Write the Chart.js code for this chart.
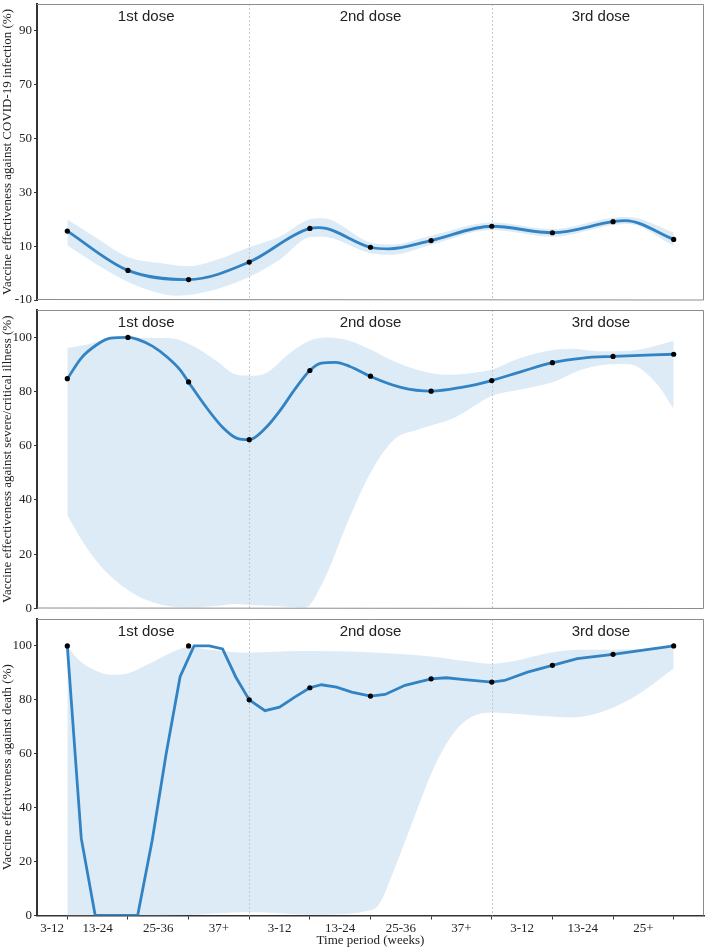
<!DOCTYPE html>
<html>
<head>
<meta charset="utf-8">
<script src="https://cdn.jsdelivr.net/npm/chart.js@4.4.0/dist/chart.umd.min.js"></script>
<style>
    html, body { margin: 0; padding: 0; background: #fff; }
    #wrap { position: relative; width: 708px; height: 948px; }
    canvas { position: absolute; left: 0; }
</style>
</head>
<body>
<div id="wrap">
    <canvas id="c1" width="708" height="310" style="top:0px"></canvas>
    <canvas id="c2" width="708" height="316" style="top:302px"></canvas>
    <canvas id="c3" width="708" height="337" style="top:611px"></canvas>
</div>
<script>
// x axis: 11 time periods, labels sit between the tick marks
const periodIndex = [0, 1, 2, 3, 4, 5, 6, 7, 8, 9, 10];
const tickLabels = ["3-12", "13-24", "25-36", "37+", "3-12", "13-24", "25-36", "37+", "3-12", "13-24", "25+"];
const tickLabelPos = [-0.25, 0.5, 1.5, 2.5, 3.5, 4.5, 5.5, 6.5, 7.5, 8.5, 9.5];
const doseNames = ["1st dose", "2nd dose", "3rd dose"];
const doseLabelPos = [1.3, 5, 8.8];
const doseBoundaries = [3, 7];

// panel 1: infection
const infTicks = [-10, 10, 30, 50, 70, 90];
const infDots = [15.6, 1.0, -2.4, 4.1, 16.6, 9.6, 12.1, 17.4, 15.0, 19.1, 12.5];
const infLineX = [0, 1, 2, 3, 4, 4.15, 5, 5.3, 6, 7, 8, 9, 9.2, 10];
const infLineY = [15.6, 1.0, -2.4, 4.1, 16.6, 16.9, 9.6, 9.0, 12.1, 17.4, 15.0, 19.1, 19.5, 12.5];
const infUpX = [0, 0.5, 1, 1.5, 2, 2.5, 3, 3.5, 4, 4.2, 5, 5.35, 6, 7, 8, 9, 9.25, 10];
const infUpY = [19.9, 12.8, 6.0, 3.8, 2.5, 5.2, 9.6, 13.5, 20.0, 20.4, 11.4, 10.6, 13.9, 18.8, 16.4, 20.6, 20.8, 15.1];
const infLoX = [0, 0.5, 1, 1.5, 1.8, 2.5, 3, 3.5, 4, 4.2, 5, 5.35, 6, 7, 8, 9, 9.25, 10];
const infLoY = [10.3, 3.0, -3.3, -7.4, -8.4, -5.7, -1.4, 5.0, 13.3, 13.5, 7.4, 6.8, 10.5, 16.0, 13.5, 17.9, 18.2, 10.2];

// panel 2: severe/critical illness
const pctTicks = [0, 20, 40, 60, 80, 100];
const sevDots = [84.7, 99.9, 83.5, 62.2, 87.7, 85.6, 80.1, 84.0, 90.6, 92.9, 93.7];
const sevLineX = [0, 0.23, 0.48, 0.71, 1, 1.16, 1.41, 1.65, 1.87, 2, 2.31, 2.56, 2.79, 3, 3.26, 3.51, 3.76, 4, 4.19, 4.42, 4.66, 5, 5.5, 6, 6.5, 7, 7.5, 8, 8.5, 9, 10];
const sevLineY = [84.6, 92.3, 97.1, 99.6, 99.9, 99.2, 96.6, 92.6, 87.7, 83.4, 73.6, 66.8, 62.8, 62.2, 66.3, 73.0, 81.0, 87.7, 90.4, 90.7, 89.2, 85.5, 81.5, 80.1, 81.5, 84.0, 87.4, 90.6, 92.3, 92.9, 93.7];
const sevUpX = [0, 0.31, 0.75, 1.68, 2.06, 2.45, 2.78, 3.0, 3.27, 3.65, 4.03, 4.31, 4.6, 4.96, 5.35, 5.78, 6.28, 6.77, 7.0, 7.44, 7.89, 8.36, 8.74, 9.29, 9.72, 10];
const sevUpY = [96.0, 97.2, 99.7, 99.7, 96.9, 91.4, 86.2, 85.8, 86.7, 93.8, 99.0, 99.9, 99.0, 95.8, 91.5, 87.9, 86.1, 87.1, 88.0, 92.0, 94.8, 95.7, 94.8, 95.0, 96.9, 98.7];
const sevLoX = [0, 0.31, 0.69, 1.13, 1.57, 2.01, 2.5, 2.77, 3.1, 3.5, 3.92, 4.2, 4.64, 5.0, 5.4, 5.79, 6.4, 7.0, 7.54, 8.0, 8.52, 9.07, 9.29, 9.72, 10];
const sevLoY = [34.4, 22.7, 12.3, 5.0, 1.3, 0.4, 1.0, 1.65, 1.2, 0.8, 0.3, 9.0, 32.7, 50.0, 62.5, 66.0, 70.5, 78.3, 81.0, 83.4, 88.3, 90.1, 89.9, 82.8, 73.6];

// panel 3: death
const deaDots = [100, null, 100, 80.0, 84.5, 81.4, 87.8, 86.6, 92.8, 96.9, 100];
const deaLineX = [0, 0.23, 0.46, 1.16, 1.40, 1.63, 1.86, 2.09, 2.34, 2.56, 2.78, 3, 3.26, 3.5, 3.75, 4, 4.19, 4.44, 4.69, 5, 5.24, 5.57, 6, 6.25, 6.55, 7, 7.21, 7.59, 8, 8.41, 9, 10];
const deaLineY = [99.9, 28.6, 0, 0, 27.9, 60.0, 88.6, 100, 100, 98.9, 88.4, 80.0, 76.0, 77.3, 81.0, 84.5, 85.6, 84.7, 82.9, 81.4, 82.0, 85.4, 87.8, 88.2, 87.5, 86.6, 87.2, 90.3, 92.8, 95.3, 96.9, 100];
const deaUpX = [0, 0.2, 0.48, 0.72, 0.97, 1.35, 1.79, 2.01, 2.34, 2.99, 3.87, 4.96, 6.0, 6.55, 7.0, 7.37, 8.0, 8.47, 9.0, 9.56, 10];
const deaUpY = [99.9, 94.6, 90.7, 89.3, 89.7, 93.4, 98.3, 99.6, 98.6, 97.5, 98.1, 97.7, 96.1, 94.4, 93.4, 94.4, 97.7, 98.6, 98.6, 99.0, 100];
const deaLoX = [0, 1, 2, 3, 4, 4.5, 4.9, 5.13, 5.4, 5.74, 6.07, 6.4, 6.67, 7.0, 7.77, 8.32, 8.87, 9.42, 10];
const deaLoY = [0, 0, 0.2, 1.3, 0.3, 0.5, 1.5, 3.8, 17.6, 37.6, 56.0, 68.5, 73.7, 75.3, 74.1, 73.5, 76.0, 82.1, 91.6];

const BLUE = "#3283c4";
const BAND = "#ddebf6";
const SERIF = "'Liberation Serif', 'Times New Roman', serif";
const SANS = "'Liberation Sans', Arial, sans-serif";

function pts(xs, ys) {
    return xs.map((x, i) => ({ x: x, y: ys[i] }));
}

// dotted dose separators, drawn just above the band
const separators = {
    id: "separators",
    afterDatasetDraw(chart, args) {
        if (args.index !== 2) return;
        const { ctx, chartArea, scales } = chart;
        ctx.save();
        ctx.strokeStyle = "#c8c8c8";
        ctx.lineWidth = 1;
        ctx.setLineDash([2, 2]);
        doseBoundaries.forEach((b) => {
            const px = Math.round(scales.x.getPixelForValue(b)) + 0.5;
            ctx.beginPath();
            ctx.moveTo(px, chartArea.top);
            ctx.lineTo(px, chartArea.bottom);
            ctx.stroke();
        });
        ctx.restore();
    },
};

// frame + dose labels
const frame = {
    id: "frame",
    afterDraw(chart) {
        const { ctx, chartArea, scales } = chart;
        const a = chartArea;
        ctx.save();
        ctx.strokeStyle = "#8c8c8c";
        ctx.lineWidth = 1;
        ctx.beginPath();
        ctx.moveTo(a.left, a.top + 0.5);
        ctx.lineTo(a.right - 0.5, a.top + 0.5);
        ctx.lineTo(a.right - 0.5, a.bottom);
        if (!scales.x.options.display) {
            ctx.lineTo(a.left, a.bottom - 0.5);
        }
        ctx.stroke();

        ctx.fillStyle = "#222";
        ctx.font = "15px " + SANS;
        ctx.textAlign = "center";
        ctx.textBaseline = "middle";
        doseNames.forEach((name, i) => {
            ctx.fillText(name, scales.x.getPixelForValue(doseLabelPos[i]), a.top + 13);
        });
        ctx.restore();
    },
};

function makePanel(id, cfg) {
    const datasets = [
        {
            data: pts(periodIndex, cfg.dots),
            showLine: false,
            pointRadius: 2.6,
            pointBackgroundColor: "#000",
            pointBorderWidth: 0,
        },
        {
            data: pts(cfg.lineX, cfg.lineY),
            borderColor: BLUE,
            borderWidth: 2.8,
            pointRadius: 0,
            fill: false,
            tension: cfg.straight ? 0 : 0.4,
            cubicInterpolationMode: cfg.straight ? "default" : "monotone",
        },
        {
            data: pts(cfg.upX, cfg.upY),
            borderWidth: 0,
            borderColor: "rgba(0,0,0,0)",
            backgroundColor: BAND,
            pointRadius: 0,
            fill: "+1",
            cubicInterpolationMode: "monotone",
        },
        {
            data: pts(cfg.loX, cfg.loY),
            borderWidth: 0,
            borderColor: "rgba(0,0,0,0)",
            pointRadius: 0,
            fill: false,
            cubicInterpolationMode: "monotone",
        },
    ];

    new Chart(document.getElementById(id), {
        type: "line",
        data: { datasets: datasets },
        options: {
            responsive: false,
            animation: false,
            layout: { padding: { top: cfg.padTop, bottom: cfg.padBottom, left: 0, right: 1 } },
            plugins: { legend: { display: false }, tooltip: { enabled: false } },
            scales: {
                x: {
                    type: "linear",
                    display: cfg.showX,
                    min: -0.5,
                    max: 10.5,
                    afterBuildTicks: (s) => {
                        s.ticks = periodIndex
                            .concat(tickLabelPos)
                            .sort((p, q) => p - q)
                            .map((v) => ({ value: v }));
                    },
                    afterFit: (s) => {
                        s.height = cfg.showX ? 32.5 : 0;
                        s.paddingLeft = 0;
                        s.paddingRight = 0;
                    },
                    ticks: {
                        autoSkip: false,
                        maxRotation: 0,
                        padding: 1,
                        color: "#222",
                        font: { family: SERIF, size: 13 },
                        callback: (v) => {
                            const k = tickLabelPos.indexOf(v);
                            return k >= 0 ? tickLabels[k] : "";
                        },
                    },
                    grid: {
                        drawOnChartArea: false,
                        tickLength: 4,
                        tickColor: (c) => (c.tick && Number.isInteger(c.tick.value) ? "#333" : "rgba(0,0,0,0)"),
                    },
                    border: { color: "#333", width: 1.5 },
                    title: {
                        display: true,
                        text: "Time period (weeks)",
                        color: "#222",
                        padding: 0,
                        font: { family: SERIF, size: 13 },
                    },
                },
                y: {
                    min: cfg.yMin,
                    max: cfg.yMax,
                    afterBuildTicks: (s) => {
                        s.ticks = cfg.yTicks.map((v) => ({ value: v }));
                    },
                    afterFit: (s) => {
                        s.width = 37;
                        s.paddingTop = 0;
                        s.paddingBottom = 0;
                    },
                    ticks: {
                        padding: 2,
                        color: "#222",
                        font: { family: SERIF, size: 13 },
                        callback: (v) => String(v),
                    },
                    grid: { drawOnChartArea: false, tickLength: 3, tickColor: "#333" },
                    border: { color: "#333", width: 2 },
                    title: {
                        display: true,
                        text: cfg.yTitle,
                        color: "#222",
                        padding: 0,
                        font: { family: SERIF, size: 13 },
                    },
                },
            },
        },
        plugins: [separators, frame],
    });
}

makePanel("c1", {
    dots: infDots, lineX: infLineX, lineY: infLineY,
    upX: infUpX, upY: infUpY, loX: infLoX, loY: infLoY,
    yMin: -10, yMax: 100, yTicks: infTicks,
    yTitle: "Vaccine effectiveness against COVID-19 infection (%)",
    showX: false, padTop: 1, padBottom: 10,
});

makePanel("c2", {
    dots: sevDots, lineX: sevLineX, lineY: sevLineY,
    upX: sevUpX, upY: sevUpY, loX: sevLoX, loY: sevLoY,
    yMin: 0, yMax: 110, yTicks: pctTicks,
    yTitle: "Vaccine effectiveness against severe/critical illness (%)",
    showX: false, padTop: 8, padBottom: 9.5,
});

makePanel("c3", {
    dots: deaDots, lineX: deaLineX, lineY: deaLineY,
    upX: deaUpX, upY: deaUpY, loX: deaLoX, loY: deaLoY,
    yMin: 0, yMax: 110, yTicks: pctTicks,
    yTitle: "Vaccine effectiveness against death (%)",
    showX: true, straight: true, padTop: 8, padBottom: 0,
});
</script>
</body>
</html>
